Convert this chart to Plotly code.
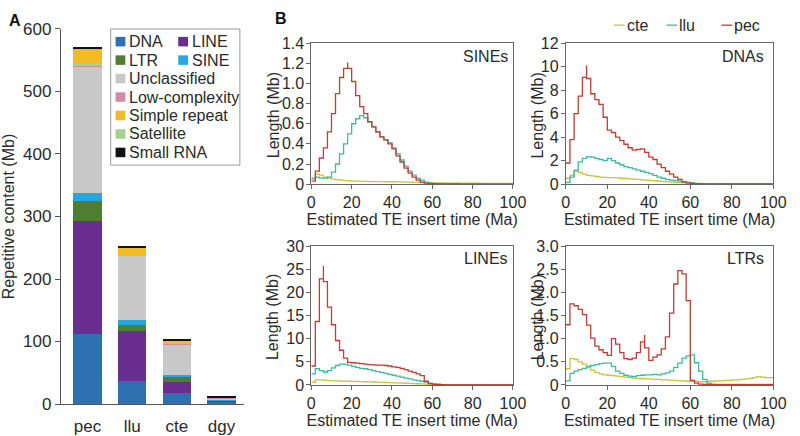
import plotly.graph_objects as go

# ---------------- Panel A data ----------------
species = ["pec", "llu", "cte", "dgy"]
repeat_classes = ["DNA", "LINE", "LTR", "SINE", "Unclassified", "Low-complexity",
                  "Satellite", "Simple repeat", "Small RNA"]
dna_mb = [112, 37, 18, 4]
line_mb = [181, 80, 17, 1]
ltr_mb = [31, 10, 9, 1]
sine_mb = [13, 8, 2, 0.5]
unclassified_mb = [203, 102, 50, 3]
lowcomplexity_mb = [1, 0.5, 0.3, 0.2]
satellite_mb = [5, 1, 0.5, 0.2]
simplerepeat_mb = [23, 12, 5, 1]
smallrna_mb = [2, 1.5, 1, 0.5]

class_values = {
    "DNA": dna_mb, "LINE": line_mb, "LTR": ltr_mb, "SINE": sine_mb,
    "Unclassified": unclassified_mb, "Low-complexity": lowcomplexity_mb,
    "Satellite": satellite_mb, "Simple repeat": simplerepeat_mb, "Small RNA": smallrna_mb,
}
class_colors = {
    "DNA": "#2f70b0", "LINE": "#6a2f8e", "LTR": "#4f7e32", "SINE": "#2aa6de",
    "Unclassified": "#c8c8c8", "Low-complexity": "#d58aab", "Satellite": "#a6d08c",
    "Simple repeat": "#f4ba21", "Small RNA": "#111111",
}
# legend layout (rows of names)
legend_rows = [["DNA", "LINE"], ["LTR", "SINE"], ["Unclassified"], ["Low-complexity"],
               ["Simple repeat"], ["Satellite"], ["Small RNA"]]
a_yticks = [0, 100, 200, 300, 400, 500, 600]

# ---------------- Panel B data ----------------
age_bins = [0, 2, 4, 6, 8, 10, 12, 14, 16, 18, 20, 22, 24, 26, 28, 30, 32, 34, 36, 38,
            40, 42, 44, 46, 48, 50, 52, 54, 56, 58, 60, 62, 64, 66, 68, 70, 72, 74, 76, 78,
            80, 82, 84, 86, 88, 90, 92, 94, 96, 98]
age_end = 100

sine_pec = [0.03, 0.13, 0.26, 0.36, 0.52, 0.70, 0.90, 1.06, 1.15, 1.15,
            1.02, 0.88, 0.77, 0.70, 0.62, 0.57, 0.52, 0.47, 0.44, 0.40,
            0.35, 0.28, 0.22, 0.16, 0.11, 0.07, 0.04, 0.02, 0.01, 0.005,
            0.004, 0.003, 0.003, 0.002, 0.002, 0.002, 0.002, 0.001, 0.001, 0.001,
            0.001, 0.001, 0.001, 0.001, 0.001, 0.001, 0.001, 0.001, 0.001, 0.001]
sine_llu = [0.06, 0.07, 0.06, 0.06, 0.07, 0.12, 0.20, 0.30, 0.40, 0.50,
            0.60, 0.65, 0.68, 0.66, 0.62, 0.57, 0.52, 0.47, 0.44, 0.41,
            0.36, 0.30, 0.24, 0.18, 0.13, 0.09, 0.06, 0.04, 0.02, 0.01,
            0.006, 0.004, 0.003, 0.003, 0.002, 0.002, 0.002, 0.002, 0.002, 0.002,
            0.002, 0.002, 0.002, 0.002, 0.002, 0.002, 0.002, 0.002, 0.002, 0.002]
sine_cte = [0.05, 0.10, 0.09, 0.07, 0.06, 0.05, 0.045, 0.04, 0.035, 0.032,
            0.03, 0.03, 0.028, 0.027, 0.026, 0.025, 0.025, 0.025, 0.024, 0.024,
            0.024, 0.023, 0.022, 0.021, 0.02, 0.018, 0.017, 0.016, 0.015, 0.014,
            0.013, 0.012, 0.012, 0.011, 0.011, 0.01, 0.01, 0.01, 0.009, 0.009,
            0.009, 0.009, 0.008, 0.008, 0.008, 0.008, 0.008, 0.008, 0.008, 0.008]

dna_pec = [1.8, 3.8, 6.0, 7.5, 9.1, 9.0, 7.7, 7.2, 6.8, 5.7,
           4.6, 4.4, 4.0, 3.7, 3.4, 3.1, 2.9, 2.95, 3.0, 2.7,
           2.3, 2.1, 1.7, 1.4, 1.1, 0.85, 0.6, 0.4, 0.2, 0.1,
           0.06, 0.04, 0.03, 0.02, 0.02, 0.02, 0.02, 0.015, 0.015, 0.015,
           0.01, 0.01, 0.01, 0.01, 0.01, 0.01, 0.01, 0.01, 0.01, 0.01]
dna_llu = [0.15, 0.6, 1.2, 1.9, 2.2, 2.35, 2.3, 2.2, 2.1, 2.0,
           2.2, 2.0, 1.8, 1.65, 1.5, 1.4, 1.3, 1.2, 1.1, 1.0,
           0.9, 0.75, 0.6, 0.5, 0.4, 0.35, 0.3, 0.25, 0.2, 0.15,
           0.1, 0.05, 0.03, 0.02, 0.02, 0.015, 0.015, 0.01, 0.01, 0.01,
           0.01, 0.01, 0.01, 0.01, 0.01, 0.01, 0.01, 0.01, 0.01, 0.01]
dna_cte = [0.5, 0.75, 1.1, 1.0, 0.85, 0.75, 0.7, 0.65, 0.6, 0.58,
           0.56, 0.55, 0.53, 0.5, 0.48, 0.45, 0.42, 0.4, 0.37, 0.35,
           0.32, 0.29, 0.26, 0.23, 0.2, 0.17, 0.15, 0.13, 0.11, 0.09,
           0.08, 0.07, 0.06, 0.05, 0.05, 0.04, 0.04, 0.04, 0.03, 0.03,
           0.03, 0.03, 0.03, 0.03, 0.03, 0.03, 0.03, 0.03, 0.03, 0.03]

line_pec = [4.1, 13.7, 22.9, 22.3, 16.8, 13.0, 9.6, 7.5, 5.8, 4.9,
            4.8, 4.7, 4.6, 4.5, 4.4, 4.35, 4.3, 4.3, 4.2, 4.1,
            3.9, 3.8, 3.6, 3.3, 3.0, 2.7, 2.4, 2.0, 0.8, 0.3,
            0.15, 0.1, 0.05, 0.03, 0.02, 0.02, 0.02, 0.02, 0.02, 0.02,
            0.02, 0.02, 0.02, 0.02, 0.02, 0.02, 0.02, 0.02, 0.02, 0.02]
line_llu = [2.4, 3.5, 3.1, 2.8, 3.1, 3.7, 4.2, 4.5, 4.5, 4.3,
            4.0, 3.8, 3.6, 3.5, 3.3, 3.1, 2.9, 2.7, 2.5, 2.3,
            2.1, 1.9, 1.7, 1.5, 1.3, 1.1, 0.95, 0.8, 0.6, 0.4,
            0.25, 0.12, 0.05, 0.03, 0.02, 0.02, 0.02, 0.02, 0.02, 0.02,
            0.02, 0.02, 0.02, 0.02, 0.02, 0.02, 0.02, 0.02, 0.02, 0.02]
line_cte = [0.6, 1.1, 1.1, 1.0, 0.95, 0.9, 0.88, 0.85, 0.82, 0.8,
            0.77, 0.75, 0.72, 0.7, 0.67, 0.64, 0.6, 0.57, 0.54, 0.5,
            0.47, 0.44, 0.4, 0.37, 0.33, 0.3, 0.27, 0.23, 0.2, 0.17,
            0.14, 0.11, 0.09, 0.07, 0.06, 0.05, 0.05, 0.04, 0.04, 0.04,
            0.03, 0.03, 0.03, 0.03, 0.03, 0.03, 0.03, 0.03, 0.03, 0.03]

ltr_pec = [1.30, 1.75, 1.71, 1.63, 1.52, 1.29, 1.01, 0.84, 0.76, 0.70,
           0.64, 1.00, 0.88, 0.70, 0.57, 0.55, 0.58, 0.70, 0.93, 0.80,
           0.53, 0.60, 0.65, 0.78, 1.04, 1.55, 2.18, 2.47, 2.40, 1.82,
           0.10, 0.04, 0.02, 0.01, 0.01, 0.005, 0.005, 0.005, 0.005, 0.005,
           0.005, 0.005, 0.005, 0.005, 0.005, 0.005, 0.005, 0.005, 0.005, 0.005]
ltr_llu = [0.09, 0.25, 0.30, 0.33, 0.36, 0.40, 0.42, 0.44, 0.46, 0.47,
           0.47, 0.40, 0.30, 0.25, 0.21, 0.19, 0.18, 0.20, 0.21, 0.22,
           0.22, 0.23, 0.22, 0.24, 0.26, 0.30, 0.38, 0.47, 0.58, 0.63,
           0.65, 0.48, 0.30, 0.12, 0.04, 0.02, 0.01, 0.01, 0.01, 0.01,
           0.01, 0.01, 0.01, 0.01, 0.01, 0.01, 0.01, 0.01, 0.01, 0.01]
ltr_cte = [0.35, 0.57, 0.55, 0.50, 0.45, 0.38, 0.32, 0.27, 0.24, 0.22,
           0.21, 0.20, 0.19, 0.18, 0.17, 0.16, 0.15, 0.14, 0.14, 0.13,
           0.13, 0.12, 0.12, 0.11, 0.11, 0.10, 0.10, 0.09, 0.09, 0.08,
           0.08, 0.08, 0.07, 0.07, 0.08, 0.08, 0.09, 0.09, 0.10, 0.10,
           0.11, 0.11, 0.12, 0.13, 0.14, 0.16, 0.18, 0.17, 0.16, 0.16]

# narrow single-point spikes at bin edges (age, height)
spikes = {
    ("SINEs", "pec"): (18, 1.21),
    ("DNAs", "pec"): (10, 10.1),
    ("LINEs", "pec"): (6, 25.7),
    ("LTRs", "pec"): (38, 1.08),
}

te_panels = ["SINEs", "DNAs", "LINEs", "LTRs"]
te_series = {
    "SINEs": {"cte": sine_cte, "llu": sine_llu, "pec": sine_pec},
    "DNAs": {"cte": dna_cte, "llu": dna_llu, "pec": dna_pec},
    "LINEs": {"cte": line_cte, "llu": line_llu, "pec": line_pec},
    "LTRs": {"cte": ltr_cte, "llu": ltr_llu, "pec": ltr_pec},
}
te_yticks = {
    "SINEs": ([0, 0.2, 0.4, 0.6, 0.8, 1.0, 1.2, 1.4], ["0", "0.2", "0.4", "0.6", "0.8", "1.0", "1.2", "1.4"]),
    "DNAs": ([0, 2, 4, 6, 8, 10, 12], ["0", "2", "4", "6", "8", "10", "12"]),
    "LINEs": ([0, 5, 10, 15, 20, 25, 30], ["0", "5", "10", "15", "20", "25", "30"]),
    "LTRs": ([0, 0.5, 1.0, 1.5, 2.0, 2.5, 3.0], ["0", "0.5", "1.0", "1.5", "2.0", "2.5", "3.0"]),
}
te_xticks = [0, 20, 40, 60, 80, 100]
genome_order = ["cte", "llu", "pec"]
genome_colors = {"cte": "#c9c43a", "llu": "#3dbb9f", "pec": "#c53a31"}

# ---------------- figure ----------------
W, H = 800, 436
FONT = "Arial, 'Liberation Sans', sans-serif"
TXT = "#2a2a2a"


def px(x):
    return x / W


def py(y):
    return 1 - y / H


fig = go.Figure()

# Panel A stacked bars
for cls in repeat_classes:
    fig.add_trace(go.Bar(x=species, y=class_values[cls], name=cls,
                         marker=dict(color=class_colors[cls], line=dict(width=0)),
                         width=0.64, showlegend=False, xaxis="x", yaxis="y"))

# Panel B step lines
for i, panel in enumerate(te_panels):
    ax = str(i + 2)
    for g in genome_order:
        vals = te_series[panel][g]
        xs, ys = [], []
        sp = spikes.get((panel, g))
        for edge, v in zip(age_bins, vals):
            if sp is not None and edge == sp[0]:
                xs.append(edge)
                ys.append(sp[1])
            xs.append(edge)
            ys.append(v)
        xs.append(age_end)
        ys.append(vals[-1])
        fig.add_trace(go.Scatter(x=xs, y=ys, mode="lines", line_shape="hv",
                                 line=dict(color=genome_colors[g], width=1.3),
                                 name=g, showlegend=False, xaxis="x" + ax, yaxis="y" + ax))

layout = dict(
    width=W, height=H, margin=dict(l=0, r=0, t=0, b=0),
    paper_bgcolor="white", plot_bgcolor="white",
    font=dict(family=FONT, size=16, color=TXT),
    barmode="stack", bargap=0.3,
    showlegend=False,
)

# Panel A axes
layout["xaxis"] = dict(domain=[px(58), px(245)], range=[-0.6, 3.5], showline=True,
                       linecolor="#555", linewidth=1, ticks="", showgrid=False,
                       ticklabelstandoff=7,
                       tickfont=dict(size=17, color=TXT), fixedrange=True)
layout["yaxis"] = dict(domain=[py(415), py(21)], range=[0, 600], showline=True,
                       linecolor="#555", linewidth=1, ticks="outside", ticklen=5,
                       tickcolor="#555", tickvals=a_yticks, showgrid=False, zeroline=False,
                       tickfont=dict(size=17, color=TXT),
                       title=dict(text="Repetitive content (Mb)", font=dict(size=16, color=TXT), standoff=6))

# Panel B axes
col_x = [(314, 520), (574, 786)]
row_y = [(36, 184), (249, 395)]
ytitle_x = [275, 545]
label_right = [517, 779]
label_y = [50, 262]
shapes = []
annotations = []
for i, panel in enumerate(te_panels):
    r, c = divmod(i, 2)
    ax = str(i + 2)
    tv, tt = te_yticks[panel]
    layout["xaxis" + ax] = dict(domain=[px(col_x[c][0]), px(col_x[c][1])], range=[0, 100],
                                anchor="y" + ax, showline=True, linecolor="#666", linewidth=1,
                                mirror=True, ticks="outside", ticklen=4, tickcolor="#666",
                                tickvals=te_xticks, showgrid=False, zeroline=False,
                                tickfont=dict(size=16, color=TXT),
                                title=dict(text="Estimated TE insert time (Ma)",
                                           font=dict(size=16, color=TXT), standoff=1))
    layout["yaxis" + ax] = dict(domain=[py(row_y[r][1]), py(row_y[r][0])], range=[0, tv[-1]],
                                anchor="x" + ax, showline=True, linecolor="#666", linewidth=1,
                                mirror=True, ticks="outside", ticklen=4, tickcolor="#666",
                                tickvals=tv, ticktext=tt, showgrid=False, zeroline=False,
                                ticklabelstandoff=-1,
                                tickfont=dict(size=16, color=TXT))
    # y-axis title placed close to the tick labels, as in the original
    annotations.append(dict(text="Length (Mb)", xref="paper", yref="y" + ax + " domain",
                            x=px(ytitle_x[c]), y=0.49, textangle=-90, xanchor="center",
                            yanchor="middle", showarrow=False, font=dict(size=16, color=TXT)))
    annotations.append(dict(text=panel, xref="paper", yref="paper",
                            x=px(label_right[c]), y=py(label_y[r]), xanchor="right",
                            yanchor="middle", showarrow=False, font=dict(size=16, color=TXT)))

# Panel A legend (manual)
shapes.append(dict(type="rect", xref="paper", yref="paper", x0=px(109), x1=px(241),
                   y0=py(164), y1=py(21), line=dict(color="#9a9a9a", width=1),
                   fillcolor="white", layer="above"))
col_sq = [114, 178]
for r, row in enumerate(legend_rows):
    yc = 34.3 + 19.4 * r
    for c, name in enumerate(row):
        x0 = col_sq[c]
        shapes.append(dict(type="rect", xref="paper", yref="paper", x0=px(x0), x1=px(x0 + 10),
                           y0=py(yc + 5), y1=py(yc - 5), line=dict(width=0),
                           fillcolor=class_colors[name], layer="above"))
        annotations.append(dict(text=name, xref="paper", yref="paper", x=px(x0 + 12), y=py(yc),
                                xanchor="left", yanchor="middle", showarrow=False,
                                font=dict(size=16, color=TXT)))

# Panel B legend (manual)
leg_x = [623, 677, 733]
for g, x0 in zip(genome_order, leg_x):
    shapes.append(dict(type="line", xref="paper", yref="paper", x0=px(x0), x1=px(x0 + 11),
                       y0=py(17), y1=py(17), line=dict(color=genome_colors[g], width=1.3)))
    annotations.append(dict(text=g, xref="paper", yref="paper", x=px(x0 + 11), y=py(17),
                            xanchor="left", yanchor="middle", showarrow=False,
                            font=dict(size=16, color=TXT)))

# Panel letters
annotations.append(dict(text="<b>A</b>", xref="paper", yref="paper", x=px(3), y=py(12),
                        xanchor="left", yanchor="middle", showarrow=False, font=dict(size=16, color="#111")))
annotations.append(dict(text="<b>B</b>", xref="paper", yref="paper", x=px(275), y=py(10),
                        xanchor="left", yanchor="middle", showarrow=False, font=dict(size=16, color="#111")))

layout["shapes"] = shapes
layout["annotations"] = annotations
fig.update_layout(**layout)
fig.write_html("out.html", config={"displayModeBar": False},
               post_script="document.body.style.margin='0';document.documentElement.style.overflow='hidden';")
